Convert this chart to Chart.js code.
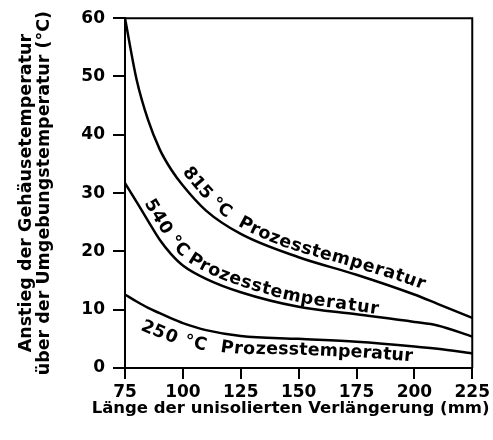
<!DOCTYPE html>
<html>
<head>
<meta charset="utf-8">
<script src="https://cdn.jsdelivr.net/npm/chart.js@4.4.1/dist/chart.umd.min.js"></script>
<style>
  html, body { margin: 0; padding: 0; background: #fff; }
</style>
</head>
<body>
<canvas id="chart" width="493" height="440"></canvas>
<script>
// Length of the uninsulated extension (mm)
const lengths = [75, 80, 85, 90, 95, 100, 110, 125, 150, 175, 200, 210, 225];
// Housing temperature rise above ambient (°C) per process temperature
const rise815 = [60, 49.5, 42.5, 37.5, 34, 31.3, 27, 23, 19, 16, 12.6, 11, 8.6];
const rise540 = [31.7, 28.5, 25.2, 22, 19.5, 17.6, 15.3, 13, 10.5, 9.2, 7.9, 7.3, 5.4];
const rise250 = [12.6, 11.4, 10.3, 9.4, 8.5, 7.7, 6.5, 5.5, 5.0, 4.5, 3.7, 3.3, 2.5];
const curveNames = ["815 °C  Prozesstemperatur", "540 °C Prozesstemperatur", "250 °C  Prozesstemperatur"];
const xTicks = [75, 100, 125, 150, 175, 200, 225];
const yTicks = [0, 10, 20, 30, 40, 50, 60];
const xTitle = "Länge der unisolierten Verlängerung (mm)";
const yTitle = ["Anstieg der Gehäusetemperatur", "über der Umgebungstemperatur (°C)"];

const FONT = "'DejaVu Sans', sans-serif";
Chart.defaults.font.family = FONT;
Chart.defaults.color = "#000";

// where each curve label starts (mm) and how far its baseline sits off the curve (px, + = above)
const labelPlacement = [
  { from: 97, offsets: [8, 5, 8], spacing: 0.5 },
  { from: 81, offsets: [6, 6, 3], spacing: 0.8 },
  { from: 85.5, offsets: [-23, -16, -15], spacing: 0.15 },
];

const toPoints = (ys) => lengths.map((x, i) => ({ x, y: ys[i] }));

// Writes each curve name along its own line, letter by letter
const curveLabels = {
  id: "curveLabels",
  afterDatasetsDraw(chart) {
    const ctx = chart.ctx;
    const xScale = chart.scales.x;
    chart.data.datasets.forEach((ds, i) => {
      const place = labelPlacement[i];
      const pts = chart.getDatasetMeta(i).data;
      const path = [];
      for (let k = 0; k < pts.length - 1; k++) {
        const a = pts[k], b = pts[k + 1];
        const c1x = a.cp2x ?? a.x, c1y = a.cp2y ?? a.y;
        const c2x = b.cp1x ?? b.x, c2y = b.cp1y ?? b.y;
        for (let t = 0; t < 1; t += 0.05) {
          const u = 1 - t;
          path.push({
            x: u * u * u * a.x + 3 * u * u * t * c1x + 3 * u * t * t * c2x + t * t * t * b.x,
            y: u * u * u * a.y + 3 * u * u * t * c1y + 3 * u * t * t * c2y + t * t * t * b.y,
          });
        }
      }
      path.push({ x: pts[pts.length - 1].x, y: pts[pts.length - 1].y });
      const len = [0];
      for (let k = 1; k < path.length; k++) {
        len.push(len[k - 1] + Math.hypot(path[k].x - path[k - 1].x, path[k].y - path[k - 1].y));
      }
      const at = (s) => {
        let k = 1;
        while (k < path.length - 1 && len[k] < s) k++;
        const f = (s - len[k - 1]) / (len[k] - len[k - 1] || 1);
        return {
          x: path[k - 1].x + f * (path[k].x - path[k - 1].x),
          y: path[k - 1].y + f * (path[k].y - path[k - 1].y),
        };
      };
      const startPx = xScale.getPixelForValue(place.from);
      let s = 0;
      for (let k = 0; k < path.length; k++) {
        if (path[k].x >= startPx) { s = len[k]; break; }
      }
      const text = ds.label;
      ctx.save();
      ctx.font = "bold 17.5px " + FONT;
      ctx.fillStyle = "#000";
      ctx.textAlign = "center";
      ctx.textBaseline = "alphabetic";
      const n = text.length;
      for (let c = 0; c < n; c++) {
        const ch = text[c];
        const w = ctx.measureText(ch).width + place.spacing;
        const mid = s + w / 2;
        const p = at(mid);
        const p0 = at(mid - 4), p1 = at(mid + 4);
        const ang = Math.atan2(p1.y - p0.y, p1.x - p0.x);
        const fr = c / (n - 1);
        const o = place.offsets;
        const off = fr < 0.5 ? o[0] + (o[1] - o[0]) * fr * 2 : o[1] + (o[2] - o[1]) * (fr - 0.5) * 2;
        ctx.save();
        ctx.translate(p.x, p.y);
        ctx.rotate(ang);
        ctx.fillText(ch, 0, -off);
        ctx.restore();
        s += w;
      }
      ctx.restore();
    });
  },
};

// Closes the plot box on top and right, and writes the x title at full width
const frame = {
  id: "frame",
  afterDraw(chart) {
    const { ctx, chartArea: a } = chart;
    ctx.save();
    ctx.strokeStyle = "#000";
    ctx.lineWidth = 2;
    ctx.beginPath();
    ctx.moveTo(a.left, a.top);
    ctx.lineTo(a.right, a.top);
    ctx.lineTo(a.right, a.bottom);
    ctx.stroke();
    ctx.font = "bold 16.5px " + FONT;
    ctx.fillStyle = "#000";
    ctx.textAlign = "center";
    ctx.textBaseline = "alphabetic";
    ctx.fillText(xTitle, (a.left + a.right) / 2 - 8, a.bottom + 45);
    ctx.restore();
  },
};

const lineStyle = {
  borderColor: "#000",
  borderWidth: 2.5,
  pointRadius: 0,
  fill: false,
  cubicInterpolationMode: "monotone",
};

new Chart(document.getElementById("chart"), {
  type: "line",
  data: {
    datasets: [
      { label: curveNames[0], data: toPoints(rise815), ...lineStyle },
      { label: curveNames[1], data: toPoints(rise540), ...lineStyle },
      { label: curveNames[2], data: toPoints(rise250), ...lineStyle },
    ],
  },
  options: {
    responsive: false,
    devicePixelRatio: 1,
    animation: false,
    layout: { padding: { top: 18, right: 20, bottom: 0, left: 0 } },
    plugins: { legend: { display: false }, tooltip: { enabled: false } },
    scales: {
      x: {
        type: "linear",
        min: 75,
        max: 225,
        afterBuildTicks: (s) => { s.ticks = xTicks.map((v) => ({ value: v })); },
        afterFit: (s) => { s.height = 72; },
        ticks: { font: { size: 17, weight: "bold" }, color: "#000", padding: 3, maxRotation: 0 },
        grid: { drawOnChartArea: false, drawTicks: true, tickLength: 11, color: "#000", lineWidth: 2 },
        border: { display: true, color: "#000", width: 2 },
        title: { display: false },
      },
      y: {
        min: 0,
        max: 60,
        afterBuildTicks: (s) => { s.ticks = yTicks.map((v) => ({ value: v })); },
        afterFit: (s) => { s.width = 125; },
        ticks: { font: { size: 17, weight: "bold" }, color: "#000", padding: 8 },
        grid: { drawOnChartArea: false, drawTicks: true, tickLength: 12, color: "#000", lineWidth: 2 },
        border: { display: true, color: "#000", width: 2 },
        title: {
          display: true,
          text: yTitle,
          font: { size: 17.5, weight: "bold", lineHeight: 1.05 },
          color: "#000",
          padding: { top: 17, bottom: 0 },
        },
      },
    },
  },
  plugins: [curveLabels, frame],
});
</script>
</body>
</html>
